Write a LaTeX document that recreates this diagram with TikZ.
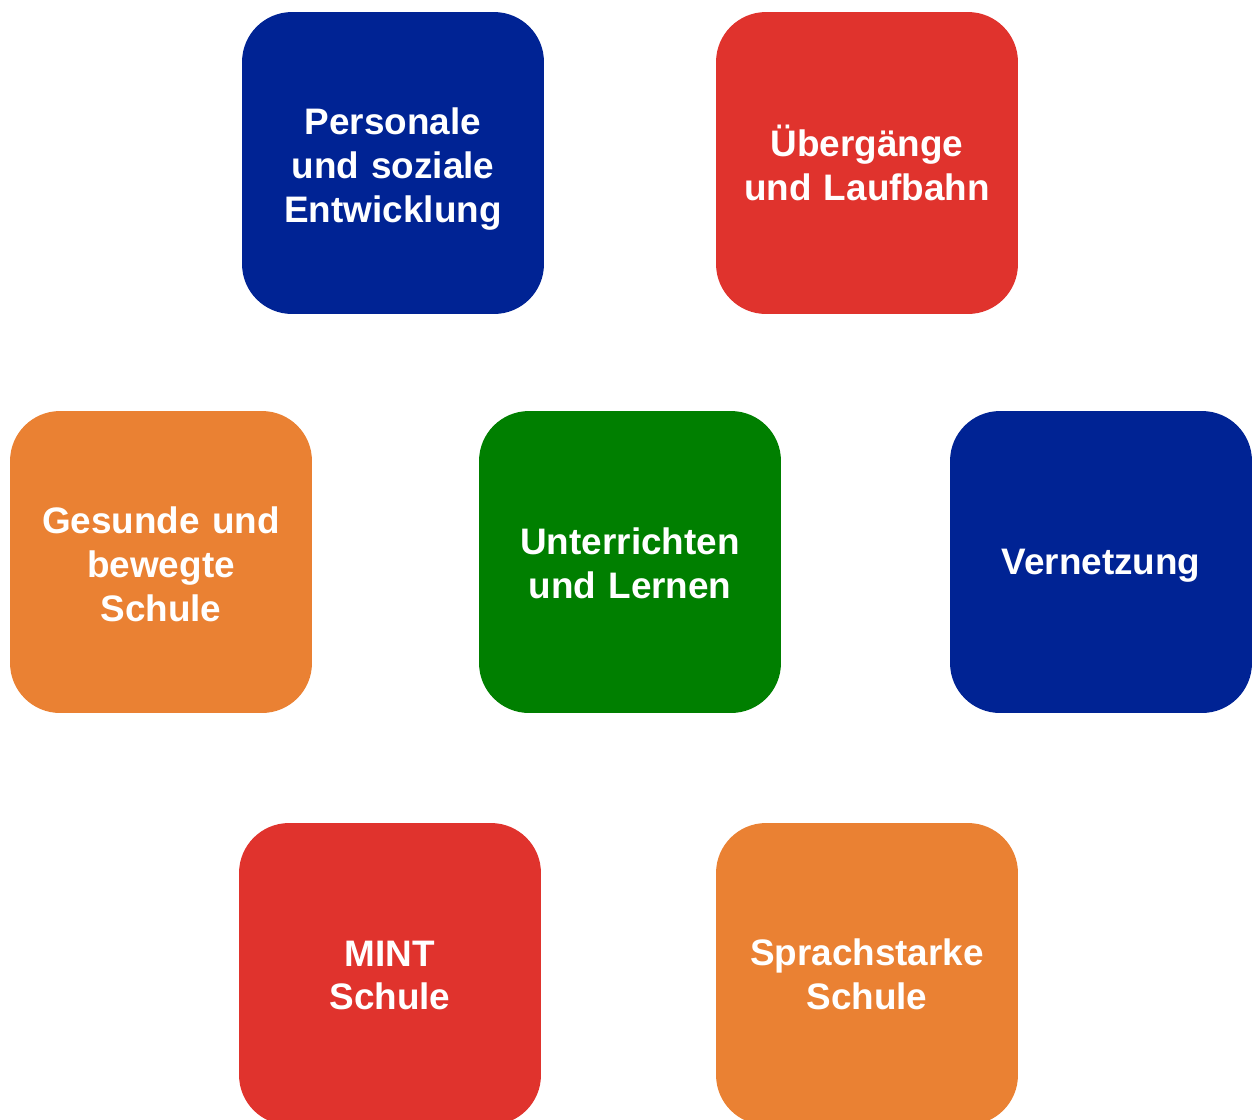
\documentclass[tikz,border=0pt]{standalone}
\usepackage{fontspec}
\setmainfont{Liberation Sans}

\definecolor{qblue}{HTML}{002394}
\definecolor{qred}{HTML}{E0332D}
\definecolor{qorange}{HTML}{EA8133}
\definecolor{qgreen}{HTML}{007F00}

\begin{document}
\begin{tikzpicture}[x=0.02cm,y=-0.02cm,
    tile/.style={rounded corners=1cm,minimum width=6.04cm,minimum height=6.04cm,
      inner sep=0pt,text=white,align=center,text width=5.8cm,
      font=\fontsize{21}{25}\selectfont\bfseries},
    textdrop/.style={execute at end node={\vspace*{-#1}}}]
      \useasboundingbox (0,0) rectangle (1252,1120);

      % upper row
      \node[tile,textdrop=0.24cm,fill=qblue] (pers) at (393,163) {Personale\\und soziale\\Entwicklung};
      \node[tile,fill=qred] (ueber) at (867,163) {Übergänge\\und Laufbahn};

      % middle row
      \node[tile,textdrop=0.08cm,fill=qorange] (gesund) at (161,562) {Gesunde und\\bewegte\\Schule};
      \node[tile,textdrop=0.06cm,fill=qgreen] (unterr) at (630,562) {Unterrichten\\und Lernen};
      \node[tile,textdrop=0.26cm,fill=qblue] (vernetz) at (1101,562) {Vernetzung};

      % lower row
      \node[tile,textdrop=0.06cm,fill=qred] (mint) at (390,974) {MINT\\Schule};
      \node[tile,fill=qorange] (sprach) at (867,974) {Sprachstarke\\Schule};
    \end{tikzpicture}
\end{document}
